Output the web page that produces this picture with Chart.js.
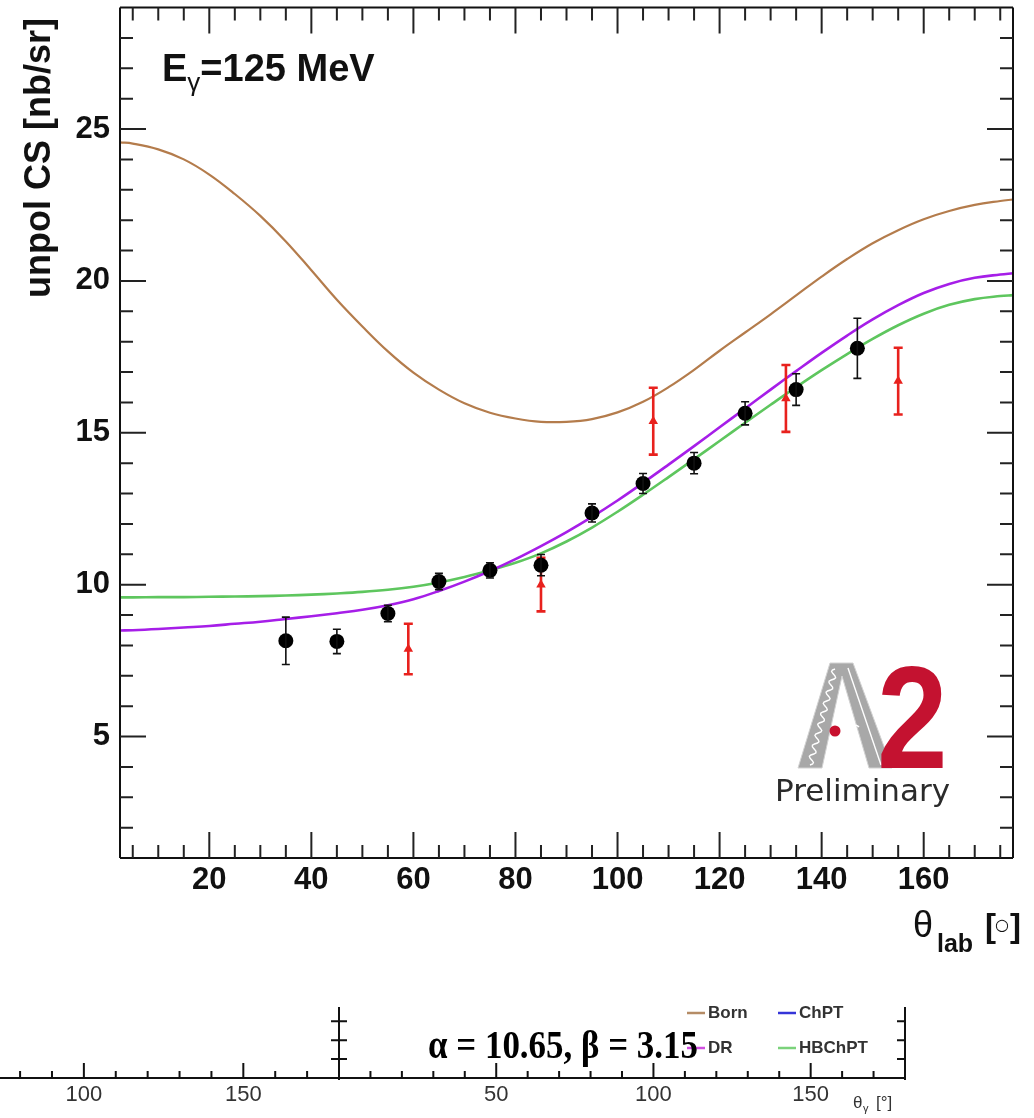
<!DOCTYPE html>
<html>
<head>
<meta charset="utf-8">
<title>unpol CS, Eγ=125 MeV</title>
<script src="https://cdn.jsdelivr.net/npm/chart.js@4.4.1/dist/chart.umd.min.js"></script>
<style>
  html, body { margin: 0; padding: 0; background: #fff; }
  body { width: 1034px; height: 1118px; position: relative; overflow: hidden; }
  .box { position: absolute; }
</style>
</head>
<body>
<div class="box" style="left:0;top:0;width:1034px;height:975px"><canvas id="csChart"></canvas></div>
<div class="box" style="left:0;top:990px;width:339px;height:128px"><canvas id="stripLeft"></canvas></div>
<div class="box" style="left:300px;top:990px;width:640px;height:128px"><canvas id="stripRight"></canvas></div>
<script>
// model curves, theta_lab in degrees, cross section in nb/sr
const thetaGrid = [2.5, 5, 10, 15, 20, 25, 30, 35, 40, 45, 50, 55, 60, 65, 70, 75, 80, 85, 90,
                   95, 100, 105, 110, 115, 120, 125, 130, 135, 140, 145, 150, 155, 160, 165, 170, 175, 177.5];
const bornCS   = [24.56, 24.52, 24.33, 24.0, 23.5, 22.86, 22.14, 21.3, 20.35, 19.38, 18.5, 17.68, 16.98, 16.42, 15.97, 15.66, 15.47, 15.36, 15.36,
                  15.45, 15.67, 16.02, 16.5, 17.07, 17.7, 18.3, 18.9, 19.52, 20.14, 20.72, 21.24, 21.67, 22.03, 22.3, 22.5, 22.63, 22.68];
const drCS     = [8.49, 8.5, 8.54, 8.59, 8.64, 8.71, 8.78, 8.87, 8.96, 9.06, 9.17, 9.32, 9.52, 9.79, 10.1, 10.45, 10.84, 11.27, 11.73,
                  12.23, 12.77, 13.35, 13.95, 14.56, 15.18, 15.8, 16.42, 17.03, 17.63, 18.2, 18.73, 19.2, 19.6, 19.9, 20.1, 20.21, 20.25];
const hbchptCS = [9.58, 9.58, 9.59, 9.59, 9.6, 9.61, 9.62, 9.64, 9.67, 9.71, 9.76, 9.83, 9.93, 10.07, 10.25, 10.47, 10.72, 11.03, 11.42,
                  11.88, 12.4, 12.96, 13.54, 14.13, 14.73, 15.33, 15.92, 16.5, 17.06, 17.59, 18.09, 18.54, 18.92, 19.21, 19.4, 19.5, 19.53];

// measured points (black circles)
const a2Theta = [35, 45, 55, 65, 75, 85, 95, 105, 115, 125, 135, 147];
const a2CS    = [8.15, 8.13, 9.05, 10.1, 10.47, 10.64, 12.36, 13.33, 14.0, 15.64, 16.42, 17.78];
const a2Err   = [0.78, 0.4, 0.27, 0.27, 0.25, 0.35, 0.3, 0.33, 0.35, 0.38, 0.52, 0.99];

// earlier measurement (red triangles)
const oldTheta = [59, 85, 107, 133, 155];
const oldCS    = [7.88, 10.0, 15.38, 16.13, 16.7];
const oldErr   = [0.83, 0.88, 1.1, 1.1, 1.1];

// axis labels
const thetaTicks = [20, 40, 60, 80, 100, 120, 140, 160];
const csTicks = [5, 10, 15, 20, 25];
const stripLeftTicks = [100, 150];
const stripRightTicks = [50, 100, 150];

// legend of the lower panel
const legendNames  = ['Born', 'ChPT', 'DR', 'HBChPT'];
const legendColors = ['#b58c66', '#3535d8', '#d04fe0', '#7bd27b'];

const toXY = (xs, ys) => xs.map((x, i) => ({ x: x, y: ys[i] }));
const minorBetween = (from, to, step, skip) => {
  const out = [];
  for (let v = from; v <= to + 1e-9; v += step) if (!skip.includes(v)) out.push(v);
  return out;
};

Chart.defaults.font.family = '"Liberation Sans", Arial, sans-serif';
Chart.defaults.animation = false;

// ROOT style frame: axis lines with ticks pointing into the pad
const rootFrame = {
  id: 'rootFrame',
  afterDraw(chart, args, o) {
    const { ctx, chartArea: a, scales: { x, y } } = chart;
    const has = s => o.sides.includes(s);
    const seg = (x1, y1, x2, y2) => { ctx.moveTo(x1, y1); ctx.lineTo(x2, y2); };
    ctx.save();
    ctx.lineWidth = o.width;
    ctx.strokeStyle = o.color;
    ctx.beginPath();
    if (has('bottom')) seg(a.left, a.bottom, a.right, a.bottom);
    if (has('top')) seg(a.left, a.top, a.right, a.top);
    if (has('left')) seg(a.left, a.top, a.left, a.bottom + o.overhang);
    if (has('right')) seg(a.right, a.top, a.right, a.bottom + o.overhang);
    ctx.stroke();

    ctx.strokeStyle = o.tickColor;
    ctx.beginPath();
    const xt = o.xMajor.map(v => [v, o.major]).concat(o.xMinor.map(v => [v, o.minor]));
    xt.forEach(([v, len]) => {
      const px = x.getPixelForValue(v);
      if (has('bottom')) seg(px, a.bottom, px, a.bottom - len);
      if (has('top')) seg(px, a.top, px, a.top + len);
    });
    const yt = o.yMajor.map(v => [v, o.yMajorLen]).concat(o.yMinor.map(v => [v, o.yMinorLen]));
    yt.forEach(([v, len]) => {
      const py = y.getPixelForValue(v);
      if (has('left')) seg(a.left - o.leftOut, py, a.left + len, py);
      if (has('right')) seg(a.right, py, a.right - len, py);
    });
    ctx.stroke();
    ctx.restore();
  }
};

// vertical error bars, drawn right after their own dataset
const errorBars = {
  id: 'errorBars',
  afterDatasetDraw(chart, args) {
    const ds = chart.data.datasets[args.index];
    if (!ds.yErr) return;
    const { ctx, scales: { x, y } } = chart;
    ctx.save();
    ctx.strokeStyle = ds.errColor;
    ctx.lineWidth = ds.errWidth;
    ds.data.forEach((p, i) => {
      const px = x.getPixelForValue(p.x);
      const top = y.getPixelForValue(p.y + ds.yErr[i]);
      const bot = y.getPixelForValue(p.y - ds.yErr[i]);
      ctx.beginPath();
      ctx.moveTo(px, top); ctx.lineTo(px, bot);
      ctx.moveTo(px - ds.cap, top); ctx.lineTo(px + ds.cap, top);
      ctx.moveTo(px - ds.cap, bot); ctx.lineTo(px + ds.cap, bot);
      ctx.stroke();
    });
    ctx.restore();
  }
};

function wavy(ctx, x1, y1, x2, y2, amp, waves) {
  const dx = x2 - x1, dy = y2 - y1, len = Math.hypot(dx, dy);
  const nx = -dy / len, ny = dx / len;
  ctx.beginPath();
  for (let i = 0; i <= 60; i++) {
    const t = i / 60, w = Math.sin(t * waves * 2 * Math.PI) * amp;
    const px = x1 + dx * t + nx * w, py = y1 + dy * t + ny * w;
    if (i === 0) ctx.moveTo(px, py); else ctx.lineTo(px, py);
  }
  ctx.stroke();
}

// titles, energy label and the collaboration mark
const plotText = {
  id: 'plotText',
  afterDraw(chart) {
    const { ctx } = chart;
    ctx.save();
    ctx.fillStyle = '#111';
    ctx.textBaseline = 'alphabetic';

    // y title, reading upwards, ending near the top of the frame
    ctx.save();
    ctx.translate(50, 18);
    ctx.rotate(-Math.PI / 2);
    ctx.textAlign = 'right';
    ctx.font = 'bold 36px "Liberation Sans"';
    ctx.fillText('unpol CS [nb/sr]', 0, 0);
    ctx.restore();

    // x title: theta with "lab" subscript
    ctx.textAlign = 'left';
    ctx.font = '36px "Liberation Sans"';
    ctx.fillText('θ', 913, 937);
    ctx.font = 'bold 25px "Liberation Sans"';
    ctx.fillText('lab', 937, 952);
    ctx.font = 'bold 33px "Liberation Sans"';
    ctx.fillText('[', 985, 937);
    ctx.fillText(']', 1010, 937);
    ctx.font = '16px "DejaVu Sans"';
    ctx.fillText('○', 995, 930);

    // beam energy
    ctx.font = 'bold 38px "Liberation Sans"';
    ctx.fillText('E', 162, 81);
    let cx = 162 + ctx.measureText('E').width;
    ctx.font = '26px "Liberation Sans"';
    ctx.fillText('γ', cx, 91);
    cx += ctx.measureText('γ').width;
    ctx.font = 'bold 38px "Liberation Sans"';
    ctx.fillText('=125 MeV', cx, 81);

    // A2 mark: grey A with photon and proton lines
    ctx.fillStyle = '#a8a8a8';
    ctx.strokeStyle = '#d2d2d2';
    ctx.lineWidth = 1;
    ctx.beginPath();
    ctx.moveTo(798, 768); ctx.lineTo(830, 663); ctx.lineTo(853, 663); ctx.lineTo(892, 768);
    ctx.lineTo(869, 768); ctx.lineTo(842, 676); ctx.lineTo(822, 768);
    ctx.closePath();
    ctx.fill();
    ctx.stroke();
    ctx.strokeStyle = '#fff';
    ctx.lineWidth = 1.4;
    ctx.beginPath(); ctx.moveTo(848, 668); ctx.lineTo(881, 765); ctx.stroke();
    wavy(ctx, 835, 669, 810, 765, 2.8, 9);
    wavy(ctx, 840, 731, 859, 727, 2, 2);
    ctx.fillStyle = '#c8102e';
    ctx.beginPath(); ctx.arc(835, 731, 5.5, 0, 2 * Math.PI); ctx.fill();

    // red 2
    ctx.save();
    ctx.translate(877, 768);
    ctx.scale(0.87, 1);
    ctx.font = 'bold 146px "Liberation Sans"';
    ctx.fillStyle = '#c41230';
    ctx.fillText('2', 0, 0);
    ctx.restore();

    ctx.fillStyle = '#2b2b2b';
    ctx.font = '31px "DejaVu Sans"';
    ctx.fillText('Preliminary', 775, 801, 190);
    ctx.restore();
  }
};

new Chart(document.getElementById('csChart'), {
  type: 'scatter',
  data: {
    datasets: [
      {
        label: 'A2 data', data: toXY(a2Theta, a2CS), yErr: a2Err,
        errColor: '#111', errWidth: 1.6, cap: 4,
        pointStyle: 'circle', pointRadius: 7.5, pointBorderWidth: 0, backgroundColor: '#000'
      },
      {
        label: 'earlier data', data: toXY(oldTheta, oldCS), yErr: oldErr,
        errColor: '#e8211d', errWidth: 2.6, cap: 4.5,
        pointStyle: 'triangle', pointRadius: 5.5, pointBorderWidth: 0, backgroundColor: '#e8211d'
      },
      { label: 'DR', type: 'line', data: toXY(thetaGrid, drCS), borderColor: '#a61ee8', borderWidth: 2.6, pointRadius: 0, tension: 0.4 },
      { label: 'HBChPT', type: 'line', data: toXY(thetaGrid, hbchptCS), borderColor: '#5ec65e', borderWidth: 2.6, pointRadius: 0, tension: 0.4 },
      { label: 'Born', type: 'line', data: toXY(thetaGrid, bornCS), borderColor: '#b47c4c', borderWidth: 2.2, pointRadius: 0, tension: 0.4 }
    ]
  },
  options: {
    responsive: true,
    maintainAspectRatio: false,
    devicePixelRatio: 1,
    layout: { padding: { left: 0, top: 6, right: 21, bottom: 0 } },
    plugins: {
      legend: { display: false },
      tooltip: { enabled: false },
      rootFrame: {
        sides: ['top', 'bottom', 'left', 'right'], color: '#111', tickColor: '#222', width: 2,
        overhang: 0, leftOut: 0,
        xMajor: thetaTicks, xMinor: minorBetween(5, 175, 5, thetaTicks), major: 26, minor: 13,
        yMajor: csTicks, yMinor: minorBetween(2, 28, 1, csTicks), yMajorLen: 26, yMinorLen: 13
      }
    },
    scales: {
      x: {
        type: 'linear', min: 2.5, max: 177.5,
        grid: { display: false, drawTicks: false }, border: { display: false },
        afterBuildTicks: s => { s.ticks = thetaTicks.map(v => ({ value: v })); },
        afterFit: s => { s.height = 117; s.paddingLeft = 0; s.paddingRight = 0; },
        ticks: { padding: 4, maxRotation: 0, autoSkip: false, color: '#111', font: { size: 31, weight: 'bold' } }
      },
      y: {
        type: 'linear', min: 1, max: 29,
        grid: { display: false, drawTicks: false }, border: { display: false },
        afterBuildTicks: s => { s.ticks = csTicks.map(v => ({ value: v })); },
        afterFit: s => { s.width = 120; s.paddingTop = 0; s.paddingBottom = 0; },
        ticks: { padding: 10, color: '#111', font: { size: 31, weight: 'bold' } }
      }
    }
  },
  plugins: [rootFrame, errorBars, plotText]
});

// lower strip: pieces of two neighbouring pads
function stripAxis(min, max, ticks) {
  return {
    type: 'linear', min: min, max: max,
    grid: { display: false, drawTicks: false }, border: { display: false },
    afterBuildTicks: s => { s.ticks = ticks.map(v => ({ value: v })); },
    afterFit: s => { s.height = 40; s.paddingLeft = 0; s.paddingRight = 0; },
    ticks: { padding: 4, maxRotation: 0, autoSkip: false, color: '#333', font: { size: 22 } }
  };
}

new Chart(document.getElementById('stripLeft'), {
  type: 'scatter',
  data: { datasets: [] },
  options: {
    responsive: true, maintainAspectRatio: false, devicePixelRatio: 1,
    layout: { padding: { left: 0, top: 17, right: 0, bottom: 0 } },
    plugins: {
      legend: { display: false }, tooltip: { enabled: false },
      rootFrame: {
        sides: ['bottom'], color: '#111', tickColor: '#111', width: 2, overhang: 0, leftOut: 0,
        xMajor: stripLeftTicks, xMinor: minorBetween(80, 170, 10, stripLeftTicks), major: 15, minor: 7,
        yMajor: [], yMinor: [], yMajorLen: 0, yMinorLen: 0
      }
    },
    scales: {
      x: stripAxis(73.7, 180, stripLeftTicks),
      y: { display: false, min: 0, max: 3.75 }
    }
  },
  plugins: [rootFrame]
});

const stripText = {
  id: 'stripText',
  afterDraw(chart) {
    const { ctx } = chart;
    ctx.save();
    // legend, two columns by two rows
    const cols = [387, 478], rows = [23, 58];
    legendNames.forEach((name, i) => {
      const lx = cols[i % 2];
      const ly = rows[Math.floor(i / 2)];
      ctx.strokeStyle = legendColors[i];
      ctx.lineWidth = 2.5;
      ctx.beginPath(); ctx.moveTo(lx, ly); ctx.lineTo(lx + 18, ly); ctx.stroke();
      ctx.fillStyle = '#333';
      ctx.font = 'bold 17px "Liberation Sans"';
      ctx.textBaseline = 'middle';
      ctx.fillText(name, lx + 21, ly);
    });
    // polarisabilities used for the curves
    ctx.fillStyle = '#000';
    ctx.textBaseline = 'alphabetic';
    ctx.font = 'bold 40px "Liberation Serif"';
    ctx.fillText('α = 10.65, β = 3.15', 128, 68, 270);
    // axis title
    ctx.fillStyle = '#333';
    ctx.font = '17px "Liberation Sans"';
    ctx.fillText('θ', 553, 118);
    ctx.font = '11px "Liberation Sans"';
    ctx.fillText('γ', 563, 122);
    ctx.font = '17px "Liberation Sans"';
    ctx.fillText('[°]', 576, 118);
    ctx.restore();
  }
};

new Chart(document.getElementById('stripRight'), {
  type: 'scatter',
  data: { datasets: [] },
  options: {
    responsive: true, maintainAspectRatio: false, devicePixelRatio: 1,
    layout: { padding: { left: 39, top: 17, right: 35, bottom: 0 } },
    plugins: {
      legend: { display: false }, tooltip: { enabled: false },
      rootFrame: {
        sides: ['bottom', 'left', 'right'], color: '#111', tickColor: '#111', width: 2, overhang: 2, leftOut: 8,
        xMajor: stripRightTicks, xMinor: minorBetween(10, 170, 10, stripRightTicks), major: 15, minor: 7,
        yMajor: [1, 2, 3], yMinor: [], yMajorLen: 8, yMinorLen: 0
      }
    },
    scales: {
      x: stripAxis(0, 180, stripRightTicks),
      y: { display: false, min: 0, max: 3.75 }
    }
  },
  plugins: [rootFrame, stripText]
});
</script>
</body>
</html>
